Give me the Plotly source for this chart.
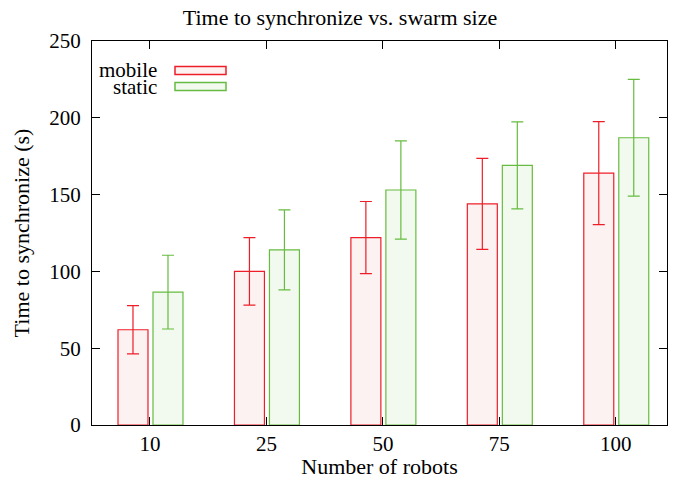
import plotly.graph_objects as go

categories = ["10", "25", "50", "75", "100"]
mobile_mean = [62, 100, 122, 144, 164]
mobile_err = [15.7, 22, 23.5, 29.6, 33.5]
static_mean = [86.5, 114, 153, 169, 187]
static_err = [24, 26, 32, 28.3, 38]

x_idx = list(range(len(categories)))
W, H = 683, 479
L, R, T, B = 92, 16, 41, 54
pw, ph = W - L - R, H - T - B

red = "rgb(238,30,40)"
red_fill = "rgb(253,242,242)"
green = "rgb(102,188,64)"
green_fill = "rgb(242,249,239)"
font = "Liberation Serif"

fig = go.Figure()
fig.add_trace(go.Bar(
    x=x_idx, y=mobile_mean, width=0.2575, offset=-0.2747,
    marker=dict(color=red_fill, line=dict(color=red, width=1.2)),
    error_y=dict(type="data", array=mobile_err, color=red, thickness=1.2, width=6),
    name="mobile", showlegend=False))
fig.add_trace(go.Bar(
    x=x_idx, y=static_mean, width=0.2575, offset=0.0258,
    marker=dict(color=green_fill, line=dict(color=green, width=1.2)),
    error_y=dict(type="data", array=static_err, color=green, thickness=1.2, width=6),
    name="static", showlegend=False))

# convert reference pixels to paper coordinates
def px_x(p):
    return (p - L) / pw

def px_y(p):
    return (H - B - p) / ph

# custom legend (gnuplot style: label then sample)
legend_items = [("mobile", red, red_fill, 66.5, 74.5), ("static", green, green_fill, 82.5, 90.5)]
for label, lc, fc, y0, y1 in legend_items:
    fig.add_shape(type="rect", xref="paper", yref="paper",
                  x0=px_x(175), x1=px_x(226), y0=px_y(y1), y1=px_y(y0),
                  line=dict(color=lc, width=1.5), fillcolor=fc)
    fig.add_annotation(xref="paper", yref="paper", x=px_x(159), y=px_y((y0 + y1) / 2),
                       text=label, showarrow=False, xanchor="right", yanchor="middle",
                       font=dict(family=font, size=21, color="black"))

fig.update_layout(
    width=W, height=H,
    margin=dict(l=L, r=R, t=T, b=B, autoexpand=False),
    paper_bgcolor="white", plot_bgcolor="white",
    barmode="overlay",
    font=dict(family=font, size=21, color="black"),
    title=dict(text="Time to synchronize vs. swarm size", x=340 / W, xanchor="center",
               y=1 - 17 / H, yanchor="middle", font=dict(family=font, size=22)),
    xaxis=dict(range=[-0.498, 4.44], tickvals=x_idx, ticktext=categories,
               ticks="inside", ticklen=8, tickcolor="black", showgrid=False,
               showline=True, linecolor="black", linewidth=1, mirror="ticks",
               zeroline=False, automargin=False,
               title=dict(text="Number of robots", standoff=2, font=dict(family=font, size=22))),
    yaxis=dict(range=[0, 250], tickvals=[0, 50, 100, 150, 200, 250],
               ticks="inside", ticklen=8, tickcolor="black", showgrid=False,
               showline=True, linecolor="black", linewidth=1, mirror="ticks",
               zeroline=False, ticklabelstandoff=6, automargin=False,
               title=dict(text="Time to synchronize (s)", standoff=13, font=dict(family=font, size=22))),
)

fig.write_html("out.html", config={"displayModeBar": False},
               post_script="document.body.style.margin='0px';")
